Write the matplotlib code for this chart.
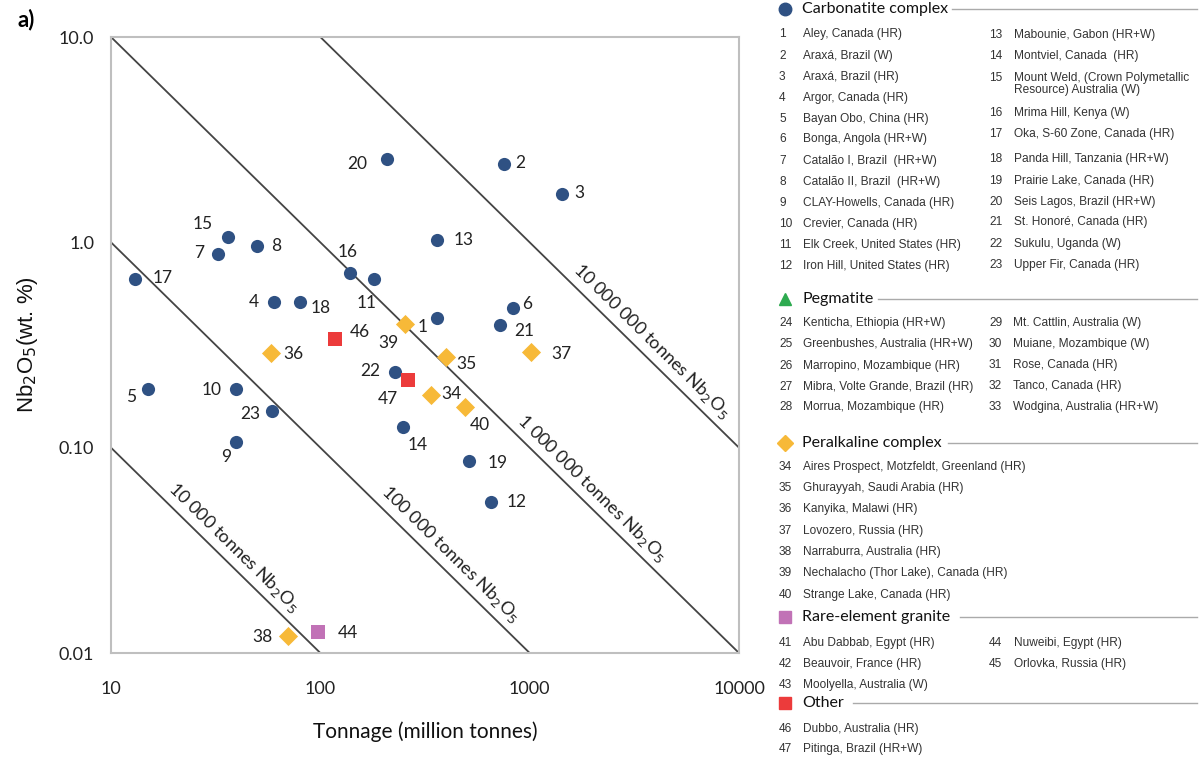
import numpy as np
import matplotlib
matplotlib.use("Agg")
import matplotlib.pyplot as plt
from matplotlib.lines import Line2D

# --- data (tonnage in million tonnes, grade in wt.% Nb2O5) ---
carb_ids = [1, 2, 3, 4, 5, 6, 7, 8, 9, 10, 11, 12, 13, 14, 15, 16, 17, 18, 19, 20, 21, 22, 23]
carb_t = [361, 754, 1428, 60, 15, 833, 32.4, 49.8, 39.6, 39.6, 180, 654, 361, 248, 36.2, 139, 13.0, 80, 513, 208, 722, 227, 58.8]
carb_g = [0.428, 2.41, 1.72, 0.512, 0.193, 0.479, 0.877, 0.959, 0.1065, 0.193, 0.663, 0.0543, 1.026, 0.126,
          1.061, 0.709, 0.663, 0.512, 0.086, 2.545, 0.396, 0.2335, 0.151]

peral_ids = [34, 35, 36, 37, 38, 39, 40]
peral_t = [338, 399, 58.2, 1016, 70.1, 254, 491]
peral_g = [0.1804, 0.276, 0.289, 0.292, 0.0121, 0.40, 0.1577]

gran_ids = [44]
gran_t = [97.5]
gran_g = [0.01265]

other_ids = [46, 47]
other_t = [117.5, 262]
other_g = [0.338, 0.2135]

# label offsets in pixels (dx right, dy down) relative to marker
lbl_off = {1: (-14, 9), 2: (16, -1), 3: (17, -1), 4: (-20, 0), 5: (-17, 8), 6: (14, -4), 7: (-19, -1),
           8: (19, 0), 9: (-10, 15), 10: (-24, 1), 11: (-7, 24), 12: (26, 0), 13: (27, 0), 14: (15, 18),
           15: (-25, -13), 16: (-3, -21), 17: (28, -1), 18: (21, 6), 19: (29, 2), 20: (-30, 5),
           21: (24, 6), 22: (-25, -1), 23: (-22, 3), 34: (20, -1), 35: (20, 7), 36: (22, 1), 37: (30, 2),
           38: (-26, 1), 39: (-17, 19), 40: (15, 18), 44: (30, 1), 46: (25, -7), 47: (-20, 19)}

# iso-tonnage lines: x*y = const (Mt * % -> 10 000 t per unit)
iso_const = [1, 10, 100, 1000]
iso_names = ["10 000 tonnes Nb$_2$O$_5$", "100 000 tonnes Nb$_2$O$_5$",
             "1 000 000 tonnes Nb$_2$O$_5$", "10 000 000 tonnes Nb$_2$O$_5$"]
iso_label_x = [17.2, 179, 805, 1476]

# legend lists
carb_left = ["Aley, Canada (HR)", "Araxá, Brazil (W)", "Araxá, Brazil (HR)", "Argor, Canada (HR)",
             "Bayan Obo, China (HR)", "Bonga, Angola (HR+W)", "Catalão I, Brazil  (HR+W)",
             "Catalão II, Brazil  (HR+W)", "CLAY-Howells, Canada (HR)", "Crevier, Canada (HR)",
             "Elk Creek, United States (HR)", "Iron Hill, United States (HR)"]
carb_right = ["Mabounie, Gabon (HR+W)", "Montviel, Canada  (HR)",
              "Mount Weld, (Crown Polymetallic\nResource) Australia (W)", "Mrima Hill, Kenya (W)",
              "Oka, S-60 Zone, Canada (HR)", "Panda Hill, Tanzania (HR+W)", "Prairie Lake, Canada (HR)",
              "Seis Lagos, Brazil (HR+W)", "St. Honoré, Canada (HR)", "Sukulu, Uganda (W)",
              "Upper Fir, Canada (HR)"]
peg_left = ["Kenticha, Ethiopia (HR+W)", "Greenbushes, Australia (HR+W)", "Marropino, Mozambique (HR)",
            "Mibra, Volte Grande, Brazil (HR)", "Morrua, Mozambique (HR)"]
peg_right = ["Mt. Cattlin, Australia (W)", "Muiane, Mozambique (W)", "Rose, Canada (HR)",
             "Tanco, Canada (HR)", "Wodgina, Australia (HR+W)"]
peral_names = ["Aires Prospect, Motzfeldt, Greenland (HR)", "Ghurayyah, Saudi Arabia (HR)",
               "Kanyika, Malawi (HR)", "Lovozero, Russia (HR)", "Narraburra, Australia (HR)",
               "Nechalacho (Thor Lake), Canada (HR)", "Strange Lake, Canada (HR)"]
gran_left = ["Abu Dabbab, Egypt (HR)", "Beauvoir, France (HR)", "Moolyella, Australia (W)"]
gran_right = ["Nuweibi, Egypt (HR)", "Orlovka, Russia (HR)"]
other_names = ["Dubbo, Australia (HR)", "Pitinga, Brazil (HR+W)"]

BLUE = "#2F5183"
YELLOW = "#F7B938"
RED = "#EC3B3B"
PINK = "#C172B6"
GREEN = "#2DAA4F"

W, H = 1200, 758
fig = plt.figure(figsize=(12, 7.58), dpi=100)
ax = fig.add_axes([111 / W, 1 - 653 / H, 628 / W, 616 / H])
ax.set_xscale("log")
ax.set_yscale("log")
ax.set_xlim(10, 10000)
ax.set_ylim(0.01, 10)

for s in ax.spines.values():
    s.set_color("#BFBFBF")
    s.set_linewidth(1.5)
ax.tick_params(which="both", length=0)
ax.minorticks_off()
ax.set_xticks([10, 100, 1000, 10000])
ax.set_xticklabels(["10", "100", "1000", "10000"], family="Lato", fontsize=13, color="#222222")
ax.set_yticks([0.01, 0.1, 1, 10])
ax.set_yticklabels(["0.01", "0.10", "1.0", "10.0"], family="Lato", fontsize=13, color="#222222")
ax.tick_params(axis="x", pad=20)
ax.tick_params(axis="y", pad=12)
ax.set_xlabel("Tonnage (million tonnes)", family="Lato", fontsize=15, labelpad=18, color="#111111")
ax.set_ylabel("Nb$_2$O$_5$(wt. %)", family="Liberation Sans", fontsize=16, labelpad=14, color="#111111")

# iso lines
xs = np.array([10, 10000.0])
for c in iso_const:
    ax.plot(xs, c / xs, color="#444444", lw=1.3, zorder=1)

# angle of the diagonal lines on screen
p1 = ax.transData.transform((10, 1))
p2 = ax.transData.transform((100, 0.1))
ang = np.degrees(np.arctan2(p2[1] - p1[1], p2[0] - p1[0]))
for c, name, lx in zip(iso_const, iso_names, iso_label_x):
    ax.annotate(name, (lx, c / lx), xytext=(2.5, 2.5), textcoords="offset points",
                rotation=ang, rotation_mode="anchor", ha="left", va="bottom",
                family="Lato", fontsize=13, color="#222222")

ms = 90
ax.scatter(carb_t, carb_g, s=ms, color=BLUE, marker="o", zorder=3, linewidths=0)
ax.scatter(peral_t, peral_g, s=95, color=YELLOW, marker="D", zorder=3, linewidths=0)
ax.scatter(gran_t, gran_g, s=ms, color=PINK, marker="s", zorder=3, linewidths=0)
ax.scatter(other_t, other_g, s=ms, color=RED, marker="s", zorder=3, linewidths=0)

px2pt = 72 / 100
for ids, ts, gs in [(carb_ids, carb_t, carb_g), (peral_ids, peral_t, peral_g),
                    (gran_ids, gran_t, gran_g), (other_ids, other_t, other_g)]:
    for i, t, g in zip(ids, ts, gs):
        dx, dy = lbl_off[i]
        ax.annotate(str(i), (t, g), xytext=(dx * px2pt, -dy * px2pt), textcoords="offset points",
                    ha="center", va="center", family="Lato", fontsize=12.5, color="#222222")

fig.text(18 / W, 1 - 20 / H, "a)", family="Lato", fontweight="bold", fontsize=16, ha="left", va="center")

# --- right hand legend panel ---
def fy(y):
    return 1 - y / H

def fx(x):
    return x / W

item_kw = dict(family="Liberation Sans", fontsize=8.6, color="#333333", va="center", ha="left")


def header(y, label, marker, color, line_start, msize=9):
    fig.add_artist(Line2D([fx(785)], [fy(y)], marker=marker, color=color, markersize=msize,
                          linestyle="none", transform=fig.transFigure))
    fig.text(fx(802), fy(y), label, family="Lato", fontsize=11.5, color="#111111", va="center", ha="left")
    fig.add_artist(Line2D([fx(line_start), fx(1197)], [fy(y), fy(y)], color="#AAAAAA", lw=1,
                          transform=fig.transFigure))


def items(nums, names, ys, xnum, xname):
    for n, name, y in zip(nums, names, ys):
        if "\n" in name:
            # two-line entry: number sits on the first line
            fig.text(fx(xnum), fy(y - 6), str(n), **item_kw)
        else:
            fig.text(fx(xnum), fy(y), str(n), **item_kw)
        fig.text(fx(xname), fy(y), name, linespacing=1.05, **item_kw)


header(9, "Carbonatite complex", "o", BLUE, 952)
items(range(1, 13), carb_left, [34, 56, 77, 98, 119, 139, 161, 182, 203, 224, 245, 266], 779, 803)
items(range(13, 24), carb_right, [35, 56, 84, 113, 134, 159, 181, 202, 222, 244, 265], 989, 1014)

header(299, "Pegmatite", "^", GREEN, 878, msize=8)
items(range(24, 29), peg_left, [323, 344, 366, 387, 407], 779, 803)
items(range(29, 34), peg_right, [323, 344, 365, 386, 407], 989, 1013)

header(443, "Peralkaline complex", "D", YELLOW, 948, msize=8)
items(range(34, 41), peral_names, [467, 488, 509, 531, 552, 573, 595], 779, 803)

header(617, "Rare-element granite", "s", PINK, 960, msize=9)
items(range(41, 44), gran_left, [643, 664, 685], 779, 803)
items(range(44, 46), gran_right, [643, 664], 989, 1014)

header(703, "Other", "s", RED, 853, msize=9)
items(range(46, 48), other_names, [729, 749], 779, 803)

fig.savefig("out.png", dpi=100)
